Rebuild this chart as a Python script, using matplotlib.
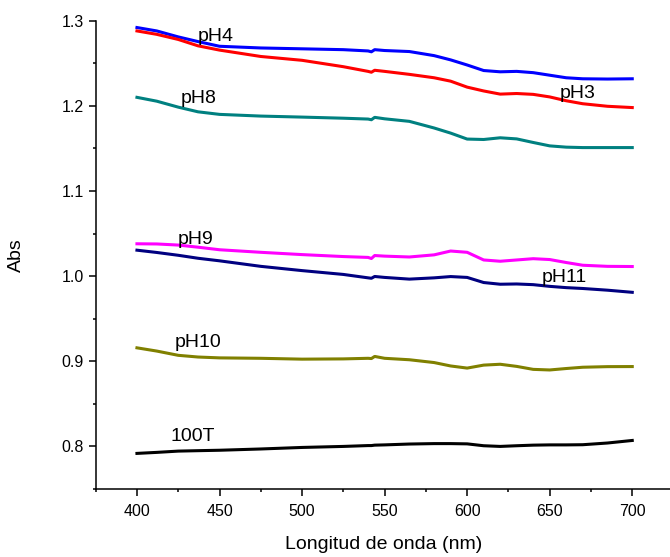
import numpy as np
import matplotlib
matplotlib.use("Agg")
import matplotlib.pyplot as plt
from matplotlib.ticker import MultipleLocator

plt.rcParams['font.family'] = ['Liberation Sans', 'DejaVu Sans']

# longitudes de onda comunes a todos los espectros
wl = [400, 412, 425, 437, 450, 475, 500, 525, 540, 542, 544, 550, 565, 580,
      590, 600, 610, 620, 630, 640, 650, 660, 670, 685, 700]

abs_ph4 = [1.292, 1.288, 1.281, 1.2755, 1.270, 1.268, 1.267, 1.266, 1.2645,
           1.2635, 1.266, 1.265, 1.2638, 1.259, 1.254, 1.248, 1.2415, 1.240,
           1.2405, 1.239, 1.236, 1.233, 1.2318, 1.2315, 1.2318]
abs_ph3 = [1.288, 1.284, 1.278, 1.2705, 1.2655, 1.258, 1.2535, 1.246, 1.2405,
           1.2395, 1.2418, 1.2405, 1.237, 1.233, 1.229, 1.222, 1.2175, 1.2138,
           1.2145, 1.2135, 1.2105, 1.206, 1.2025, 1.1995, 1.198]
abs_ph8 = [1.210, 1.2055, 1.1985, 1.193, 1.190, 1.188, 1.1868, 1.1855, 1.1845,
           1.1837, 1.1865, 1.1848, 1.1818, 1.174, 1.168, 1.161, 1.1605, 1.1625,
           1.1612, 1.157, 1.153, 1.1515, 1.151, 1.151, 1.151]
abs_ph9 = [1.038, 1.0378, 1.0365, 1.034, 1.031, 1.028, 1.0253, 1.023, 1.022,
           1.0207, 1.0242, 1.0235, 1.0225, 1.025, 1.0295, 1.028, 1.019, 1.0175,
           1.019, 1.0205, 1.0195, 1.016, 1.0128, 1.0115, 1.0113]
abs_ph11 = [1.0305, 1.0278, 1.0245, 1.021, 1.018, 1.0115, 1.0065, 1.002, 0.998,
            0.9975, 0.9996, 0.9985, 0.9965, 0.998, 0.9995, 0.9985, 0.9925, 0.9905,
            0.9908, 0.990, 0.988, 0.9865, 0.9855, 0.9835, 0.981]
abs_ph10 = [0.9158, 0.912, 0.907, 0.905, 0.904, 0.9035, 0.9025, 0.9028, 0.9035,
            0.9032, 0.9057, 0.9035, 0.9018, 0.8985, 0.8945, 0.892, 0.8955, 0.8965,
            0.894, 0.8905, 0.8898, 0.8915, 0.893, 0.8937, 0.8938]
abs_100t = [0.7918, 0.793, 0.7945, 0.795, 0.7955, 0.797, 0.7988, 0.800, 0.801,
            0.801, 0.8015, 0.8018, 0.8028, 0.8033, 0.8033, 0.803, 0.8008, 0.800,
            0.8008, 0.8015, 0.8018, 0.8018, 0.802, 0.804, 0.807]

series = [
    (abs_ph4, '#0000FF', 'pH4', 436.9, 1.2765),
    (abs_ph3, '#FF0000', 'pH3', 655.9, 1.2087),
    (abs_ph8, '#008080', 'pH8', 426.4, 1.2028),
    (abs_ph9, '#FF00FF', 'pH9', 424.9, 1.0373),
    (abs_ph11, '#000080', 'pH11', 645.4, 0.9929),
    (abs_ph10, '#808000', 'pH10', 422.9, 0.9165),
    (abs_100t, '#000000', '100T', 420.3, 0.8067),
]

fig = plt.figure(figsize=(6.7, 5.57), dpi=100)
ax = fig.add_axes([0.1428, 0.1221, 0.8600, 0.8407])

for ys, color, label, tx, ty in series:
    ax.plot(wl, ys, color=color, lw=2.2, solid_joinstyle='round')
    ax.text(tx, ty, label, fontsize=14, ha='left', va='baseline')

ax.set_xlim(375, 724)
ax.set_ylim(0.75, 1.3)
ax.xaxis.set_minor_locator(MultipleLocator(25))
ax.yaxis.set_minor_locator(MultipleLocator(0.05))
ax.set_xticks(np.arange(400, 701, 50))
ax.set_yticks([0.8, 0.9, 1.0, 1.1, 1.2, 1.3])

for side in ('top', 'right'):
    ax.spines[side].set_visible(False)
for side in ('left', 'bottom'):
    ax.spines[side].set_linewidth(1.1)

ax.tick_params(which='major', direction='out', length=5, width=1.1,
               labelsize=11.5)
ax.tick_params(axis='x', which='major', pad=6)
ax.tick_params(which='minor', direction='out', length=2.5, width=1.1)

ax.set_xlabel('Longitud de onda (nm)', fontsize=14, labelpad=12)
ax.set_ylabel('Abs', fontsize=14, labelpad=26)

fig.savefig('out.png', dpi=100)
